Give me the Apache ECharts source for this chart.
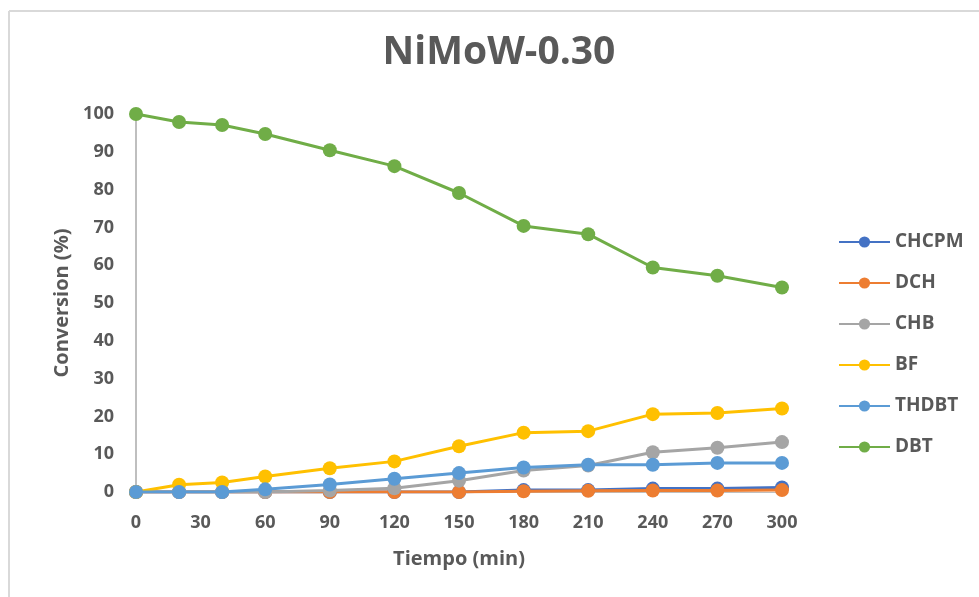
<!DOCTYPE html>
<html>
<head>
<meta charset="utf-8">
<script src="https://cdn.jsdelivr.net/npm/echarts@6/dist/echarts.min.js"></script>
<style>
html,body{margin:0;padding:0;background:#fff;}
#main{width:979px;height:597px;}
</style>
</head>
<body>
<div id="main"></div>
<script>
const times = [0, 20, 40, 60, 90, 120, 150, 180, 210, 240, 270, 300];
const seriesNames = ['CHCPM', 'DCH', 'CHB', 'BF', 'THDBT', 'DBT'];
const CHCPM = [0, 0, 0, 0, 0, 0, 0, 0.5, 0.5, 0.9, 0.9, 1.2];
const DCH   = [0, 0, 0, 0, 0, 0, 0, 0.2, 0.3, 0.4, 0.4, 0.5];
const CHB   = [0, 0, 0, 0, 0.4, 1.0, 3.0, 5.7, 7.0, 10.5, 11.7, 13.2];
const BF    = [0, 1.9, 2.5, 4.1, 6.3, 8.1, 12.1, 15.7, 16.1, 20.6, 20.9, 22.1];
const THDBT = [0, 0, 0, 0.7, 2.0, 3.5, 5.0, 6.5, 7.2, 7.2, 7.7, 7.7];
const DBT   = [100, 97.9, 97.1, 94.7, 90.4, 86.2, 79.1, 70.4, 68.2, 59.4, 57.2, 54.1];
const yTicks = [0, 10, 20, 30, 40, 50, 60, 70, 80, 90, 100];
const xTicks = [0, 30, 60, 90, 120, 150, 180, 210, 240, 270, 300];

const colors = ['#4472C4', '#ED7D31', '#A5A5A5', '#FFC000', '#5B9BD5', '#70AD47'];
const allData = [CHCPM, DCH, CHB, BF, THDBT, DBT];
const FONT = '"Open Sans", "DejaVu Sans", sans-serif';
const TXT = '#595959';

const chart = echarts.init(document.getElementById('main'), null, {renderer: 'canvas'});
chart.setOption({
  animation: false,
  backgroundColor: '#fff',
  color: colors,
  title: {
    text: 'NiMoW-0.30',
    left: 499,
    textAlign: 'center',
    top: 33,
    padding: 0,
    textStyle: {fontFamily: FONT, fontSize: 39, fontWeight: 'bold', color: TXT}
  },
  graphic: [
    {type: 'line', shape: {x1: 9, y1: 11, x2: 979, y2: 11}, style: {stroke: '#d9d9d9', lineWidth: 2}},
    {type: 'line', shape: {x1: 9, y1: 11, x2: 9, y2: 597}, style: {stroke: '#d9d9d9', lineWidth: 2}}
  ],
  legend: {
    orient: 'vertical',
    left: 838,
    top: 230,
    padding: 0,
    itemWidth: 51,
    itemHeight: 14,
    itemGap: 17,
    data: seriesNames,
    textStyle: {fontFamily: FONT, fontSize: 19, fontWeight: 'bold', color: TXT, lineHeight: 24}
  },
  grid: {left: 136, right: 197, top: 114, bottom: 105, containLabel: false},
  xAxis: {
    type: 'value',
    min: xTicks[0],
    max: xTicks[xTicks.length - 1],
    interval: 30,
    name: 'Tiempo (min)',
    nameLocation: 'middle',
    nameGap: 57,
    nameTextStyle: {fontFamily: FONT, fontSize: 20, fontWeight: 'bold', color: TXT},
    axisLine: {show: true, onZero: false, lineStyle: {color: '#bfbfbf', width: 1}},
    axisTick: {show: false},
    splitLine: {show: false},
    axisLabel: {fontFamily: FONT, fontSize: 18, fontWeight: 'bold', color: TXT, margin: 22}
  },
  yAxis: {
    type: 'value',
    min: yTicks[0],
    max: yTicks[yTicks.length - 1],
    interval: 10,
    name: 'Conversion (%)',
    nameLocation: 'middle',
    nameGap: 64,
    nameTextStyle: {fontFamily: FONT, fontSize: 20, fontWeight: 'bold', color: TXT},
    axisLine: {show: true, lineStyle: {color: '#bfbfbf', width: 2}},
    axisTick: {show: false},
    splitLine: {show: false},
    axisLabel: {fontFamily: FONT, fontSize: 18, fontWeight: 'bold', color: TXT, margin: 22}
  },
  series: seriesNames.map((n, i) => ({
    name: n,
    type: 'line',
    data: times.map((t, j) => [t, allData[i][j]]),
    symbol: 'circle',
    symbolSize: 14,
    lineStyle: {width: 3, color: colors[i]},
    itemStyle: {color: colors[i]},
    z: 2 + i
  }))
});
</script>
</body>
</html>
